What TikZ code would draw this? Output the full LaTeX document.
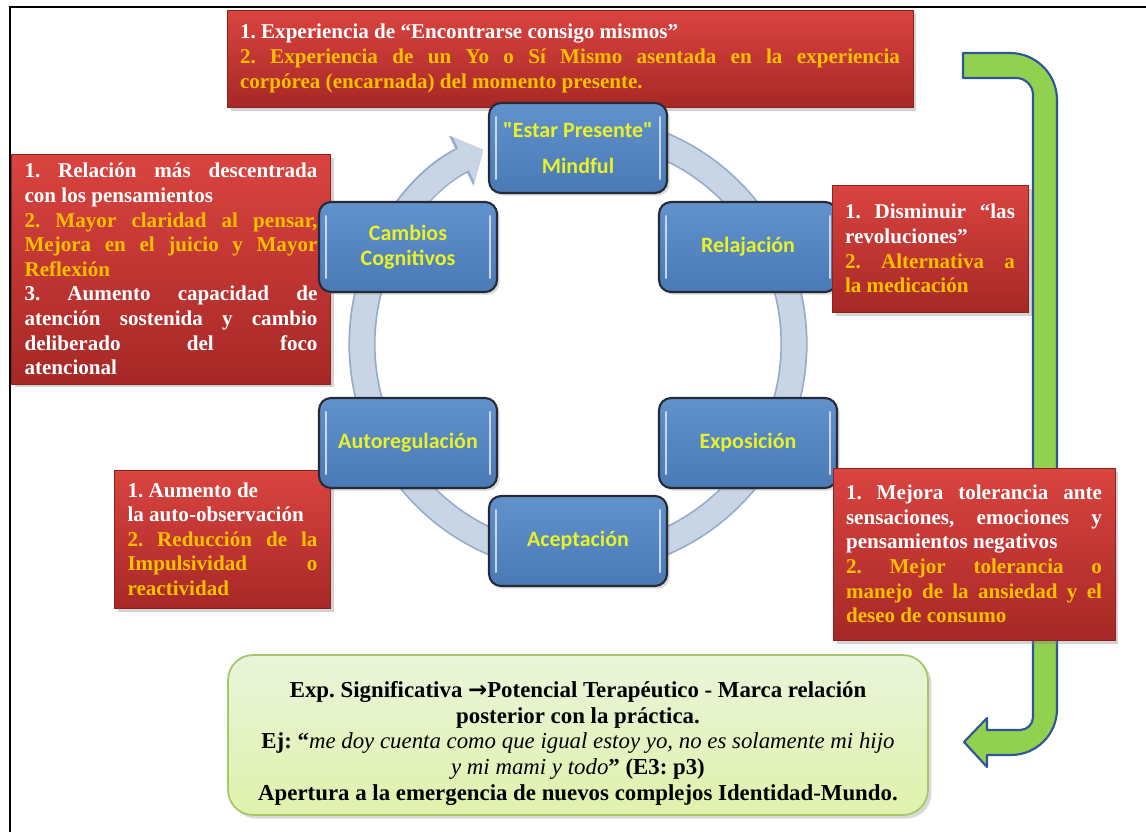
\documentclass[tikz,border=0pt]{standalone}
\usepackage{fontspec}
\setmainfont{Liberation Serif}
\newfontfamily\stagefont{Carlito}
\newfontfamily\arrowfont{DejaVu Sans}
\usetikzlibrary{arrows.meta,calc,positioning,shadows}

\definecolor{redTop}{RGB}{218,68,64}
\definecolor{redBot}{RGB}{166,40,38}
\definecolor{itemOrange}{RGB}{255,192,0}
\definecolor{stageTop}{RGB}{98,146,204}
\definecolor{stageFill}{RGB}{74,122,182}
\definecolor{stageEdge}{RGB}{38,42,52}
\definecolor{stageText}{RGB}{232,242,40}
\definecolor{ringFill}{RGB}{201,212,229}
\definecolor{ringEdge}{RGB}{150,172,205}
\definecolor{turnFill}{RGB}{146,208,80}
\definecolor{turnEdge}{RGB}{47,85,151}
\definecolor{sumTop}{RGB}{234,244,218}
\definecolor{sumBot}{RGB}{224,242,172}
\definecolor{sumEdge}{RGB}{165,198,105}

\newcommand{\notefont}{\fontsize{12}{14}\selectfont\bfseries\frenchspacing\hyphenpenalty=10000\tolerance=9999}

\begin{document}
\begin{tikzpicture}[x=0.02cm, y=-0.02cm, >=Stealth]
  % --- Styles ---
    \tikzset{
      note/.style    = {rectangle,top color=redTop,bottom color=redBot,draw=redBot!85!black,line width=.4pt,
                        text=white,align=justify,font=\notefont,inner xsep=0.26cm,
                        drop shadow={shadow xshift=2pt,shadow yshift=-2pt,opacity=.35}},
      stage/.style   = {rectangle,rounded corners=0.24cm,draw=stageEdge,line width=1.2pt,
                        top color=stageTop,bottom color=stageFill,text=stageText,
                        font=\stagefont\fontsize{12.5}{14}\selectfont\bfseries,
                        minimum width=3.56cm,minimum height=1.8cm,align=center,
                        drop shadow={shadow xshift=1.5pt,shadow yshift=-1.5pt,opacity=.3},
                        path picture={
                          \draw[white!70!stageFill,line width=1.4pt,line cap=round]
                            ([xshift=4pt,yshift=-8pt]path picture bounding box.north west) --
                            ([xshift=4pt,yshift=8pt]path picture bounding box.south west);
                          \draw[white!70!stageFill,line width=1.4pt,line cap=round]
                            ([xshift=-4pt,yshift=-8pt]path picture bounding box.north east) --
                            ([xshift=-4pt,yshift=8pt]path picture bounding box.south east);}},
      summary/.style = {rectangle,rounded corners=0.5cm,draw=sumEdge,line width=1pt,
                        top color=sumTop,bottom color=sumBot,align=center,
                        font=\fontsize{13}{14.6}\selectfont\bfseries\frenchspacing,
                        minimum width=14cm,minimum height=3.2cm,
                        drop shadow={shadow xshift=2pt,shadow yshift=-2pt,opacity=.3}},
      cycleback/.style  = {line width=15.5pt,draw=ringEdge,-{Triangle[length=14pt,width=31pt]}},
      cyclefront/.style = {line width=13.5pt,draw=ringFill,-{Triangle[length=12.5pt,width=28pt]}},
      turn/.style    = {fill=turnFill,draw=turnEdge,line width=1.2pt,line join=round}
    }

    \useasboundingbox (0,0) rectangle (1146,832);

    % --- Frame ---
    \draw[line width=1.2pt] (10,832) -- (10,7) -- (1146,7);

    % --- Left and top notes ---
    \node[note,minimum width=6.36cm,minimum height=4.6cm,text width=5.86cm] (cogNote) at (171,269)
      {1. Relación más descentrada\linebreak con los pensamientos\par
       \textcolor{itemOrange}{2. Mayor claridad al pensar,\linebreak Mejora en el juicio y Mayor\linebreak Reflexión}\par
       3. Aumento capacidad de\linebreak atención sostenida y cambio\linebreak deliberado del foco\linebreak atencional};
    \node[note,minimum width=4.3cm,minimum height=2.76cm,text width=3.8cm] (autoNote) at (222.5,539)
      {1. Aumento de\newline la auto-observación\par
       \textcolor{itemOrange}{2. Reducción de la\linebreak Impulsividad o\linebreak reactividad}};
    \node[note,minimum width=13.72cm,minimum height=1.94cm,text width=13.2cm] (presNote) at (570,58.5)
      {1. Experiencia de “Encontrarse consigo mismos”\par
       \textcolor{itemOrange}{2. Experiencia de un Yo o Sí Mismo asentada en la experiencia\linebreak corpórea (encarnada) del momento presente.}};

    % --- Cycle ring ---
    \coordinate (c) at (578,344);
    \draw[cycleback]  (c) ++(-85:216) arc[start angle=-85,end angle=244,radius=216];
    \draw[cyclefront] (c) ++(-85:216) arc[start angle=-85,end angle=244,radius=216];

    % --- Stages ---
    \node[stage] (pres) at (578,148) {"Estar Presente"\\[0.22cm] Mindful};
    \node[stage] (cog)  at (408,247) {Cambios\\ Cognitivos};
    \node[stage] (rel)  at (748,247) {Relajación};
    \node[stage] (auto) at (408,443) {Autoregulación};
    \node[stage] (expo) at (748,443) {Exposición};
    \node[stage] (acep) at (578,541) {Aceptación};

    % --- Green turn arrow ---
    \draw[turn] (963,53) -- (1010,53) arc[start angle=-90,end angle=0,radius=47]
      -- (1057,709) arc[start angle=0,end angle=90,radius=46]
      -- (987,755) -- (987,767) -- (964,742) -- (987,718) -- (987,730)
      -- (1020,730) arc[start angle=90,end angle=0,radius=13]
      -- (1033,95) arc[start angle=0,end angle=-90,radius=17]
      -- (963,78) -- cycle;

    % --- Right notes ---
    \node[note,minimum width=3.88cm,minimum height=2.54cm,text width=3.4cm] (relNote) at (930,248.5)
      {1. Disminuir “las\linebreak revoluciones”\par
       \textcolor{itemOrange}{2. Alternativa a\linebreak la medicación}};
    \node[note,minimum width=5.64cm,minimum height=3.44cm,text width=5.12cm] (expoNote) at (974,554)
      {1. Mejora tolerancia ante\linebreak sensaciones, emociones y\linebreak pensamientos negativos\par
       \textcolor{itemOrange}{2. Mejor tolerancia o\linebreak manejo de la ansiedad y el\linebreak deseo de consumo}};

    % --- Summary ---
    \node[summary] (sig) at (578,735)
      {\rule{0pt}{18.5pt}Exp. Significativa {\arrowfont\bfseries →}Potencial Terapéutico - Marca relación\\
       posterior con la práctica.\\
       Ej: “{\mdseries\itshape me doy cuenta como que igual estoy yo, no es solamente mi hijo}\\
       {\mdseries\itshape y mi mami y todo}” (E3: p3)\\
       Apertura a la emergencia de nuevos complejos Identidad-Mundo.};

\end{tikzpicture}
\end{document}
